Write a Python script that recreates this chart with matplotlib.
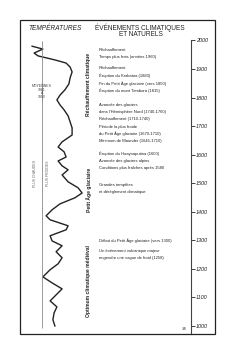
import matplotlib
matplotlib.use("Agg")
import matplotlib.pyplot as plt
from matplotlib.patches import Rectangle

plt.rcParams["font.family"] = ["Liberation Sans", "DejaVu Sans"]

# --- données ---
# écart de température par rapport à la moyenne 1961-1990 (positif = plus chaud)
annees = [1980, 1970, 1956, 1946, 1932, 1921, 1907, 1890, 1869, 1848,
          1827, 1809, 1792, 1774, 1757, 1736, 1715, 1694, 1669, 1645,
          1627, 1610, 1592, 1578, 1561, 1547, 1529, 1505, 1484, 1466,
          1449, 1428, 1407, 1386, 1372, 1351, 1337, 1316, 1298, 1281,
          1260, 1239, 1218, 1197, 1172, 1151, 1130, 1109, 1088, 1067,
          1046, 1022, 1000]
ecarts = [0.24, -0.03, 0.19, 0.09, -0.33, -0.61, -0.71, -0.76, -0.71, -0.68,
          -0.58, -0.46, -0.38, -0.46, -0.56, -0.66, -0.71, -0.76, -0.76, -0.51,
          -0.41, -0.56, -0.61, -0.41, -0.51, -0.66, -0.51, -0.66, -0.91, -1.01,
          -0.83, -0.46, -0.26, -0.11, -0.21, -0.66, -0.61, -0.21, -0.26, -0.51,
          -0.36, -0.51, -0.41, -0.21, -0.03, -0.26, -0.51, -0.36, -0.21, -0.38,
          -0.31, -0.28, -0.33]
graduations = list(range(1000, 2001, 100))

periodes = ["Réchauffement climatique", "Petit Âge glaciaire",
            "Optimum climatique médiéval"]

evenements = [
    "Réchauffement",
    "Temps plus frais (années 1960)",
    "Réchauffement",
    "Éruption du Krakatoa (1883)",
    "Fin du Petit Âge glaciaire (vers 1850)",
    "Éruption du mont Tambora (1815)",
    "Avancée des glaciers",
    "dans l'Hémisphère Nord (1740-1760)",
    "Réchauffement (1710-1740)",
    "Période la plus froide",
    "du Petit Âge glaciaire (1670-1710)",
    "Minimum de Maunder (1645-1710)",
    "Éruption du Huaynaputina (1600)",
    "Avancée des glaciers alpins",
    "Conditions plus fraîches après 1580",
    "Grandes tempêtes",
    "et dérèglement climatique",
    "Début du Petit Âge glaciaire (vers 1300)",
    "Un événement volcanique majeur",
    "engendre une vague de froid (1258)",
]

# --- mise en page (pixels) ---
W, H = 240, 358
y2000, y1000 = 40.5, 326.0
px_an = (y1000 - y2000) / 1000.0
haut, bas = 38.0, 334.0
ymin = 2000 - (bas - y2000) / px_an
ymax = 2000 - (haut - y2000) / px_an


def fx(x):
    return x / W


def fy(y):
    return 1 - y / H


def an(y):
    return 2000 - (y - y2000) / px_an


fig = plt.figure(figsize=(2.4, 3.58), dpi=100)
encre = "#222222"

# courbe des températures
x0, x1, xref = 20.0, 95.0, 41.7
ax = fig.add_axes([fx(x0), fy(bas), fx(x1) - fx(x0), fy(haut) - fy(bas)])
ax.plot(ecarts, annees, color=encre, lw=1.0, solid_joinstyle="round")
ax.vlines([0, 0], [an(328), an(101)], [an(82), an(41)],
          color="#8a8a8a", lw=0.6)
ax.set_xlim((xref - x0) / 40, (xref - x1) / 40)
ax.set_ylim(ymin, ymax)
ax.axis("off")

# axe des années
ax2 = fig.add_axes([fx(150), fy(bas), fx(190.5) - fx(150), fy(haut) - fy(bas)])
ax2.set_ylim(ymin, ymax)
ax2.set_xticks([])
for s in ["left", "top", "bottom"]:
    ax2.spines[s].set_visible(False)
ax2.spines["right"].set_bounds(ymin, graduations[-1])
ax2.spines["right"].set_linewidth(0.8)
ax2.spines["right"].set_color("#444444")
ax2.patch.set_alpha(0)
ax2.yaxis.tick_right()
ax2.set_yticks(graduations)
ax2.set_yticklabels([str(g) for g in graduations], fontsize=4.0,
                    style="italic", color=encre)
ax2.tick_params(axis="y", length=2.6, width=0.6, pad=1.6, colors=encre)

# cadre
fig.patches.append(Rectangle((fx(20), fy(bas)), fx(214.5) - fx(20),
                             fy(20) - fy(bas), transform=fig.transFigure,
                             fill=False, lw=0.9, ec=encre))

# titres
fig.text(fx(55.5), fy(28), "TEMPÉRATURES", style="italic", fontsize=4.7,
         ha="center", va="center", color=encre)
fig.text(fx(139.5), fy(28), "ÉVÉNEMENTS CLIMATIQUES", fontsize=4.7,
         ha="center", va="center", color=encre)
fig.text(fx(141), fy(35), "ET NATURELS", fontsize=4.7,
         ha="center", va="center", color=encre)

# moyenne de référence
for txt, y in zip(["MOYENNES", "1961", "À", "1990"], [86, 90, 93.5, 97]):
    fig.text(fx(xref), fy(y), txt, fontsize=2.5, ha="center", va="center",
             color="#444444")
fig.text(fx(35), fy(173), "PLUS CHAUDES", fontsize=2.5, rotation=90,
         ha="center", va="center", color="#666666")
fig.text(fx(48), fy(173), "PLUS FROIDES", fontsize=2.5, rotation=90,
         ha="center", va="center", color="#666666")

# périodes
for txt, y in zip(periodes, [84, 190, 281]):
    fig.text(fx(88.5), fy(y), txt, fontsize=3.6, weight="bold", rotation=90,
             ha="center", va="center", color=encre)

# événements
pos_ev = [50, 57.3, 68.3, 75.7, 83.3, 91, 105, 111.7, 119, 126.7, 133.3,
          140.7, 154, 161, 168.3, 185, 191.7, 240.7, 251, 257.7]
for txt, y in zip(evenements, pos_ev):
    fig.text(fx(99), fy(y), txt, fontsize=2.95, ha="left", va="center",
             color="#222222")

fig.text(fx(184), fy(329), "35", fontsize=3.2, style="italic", ha="center",
         va="center", color=encre)

fig.savefig("out.png", dpi=100)
